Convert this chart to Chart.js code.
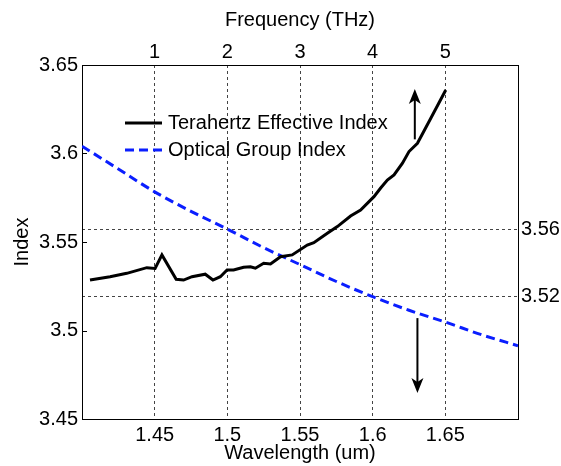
<!DOCTYPE html>
<html>
<head>
<meta charset="utf-8">
<script src="https://cdn.jsdelivr.net/npm/chart.js@4"></script>
<style>
  html, body { margin: 0; padding: 0; background: #fff; }
  canvas { display: block; }
</style>
</head>
<body>
<canvas id="index-chart" width="561" height="466"></canvas>
<script>
// terahertz effective index (left axis)
const thzLambda = [1.4055, 1.4193, 1.4308, 1.4446, 1.4503, 1.455, 1.4648, 1.4699, 1.4757, 1.4848,
  1.4901, 1.4952, 1.4998, 1.5043, 1.5112, 1.5159, 1.5193, 1.525, 1.5297, 1.5366, 1.5446, 1.555,
  1.5595, 1.5688, 1.5757, 1.5848, 1.5917, 1.6009, 1.6055, 1.6101, 1.6147, 1.6205, 1.625, 1.6308,
  1.64, 1.6503];
const thzIndex = [3.5285, 3.5304, 3.5323, 3.5355, 3.5351, 3.5427, 3.5289, 3.5285, 3.5304, 3.5318,
  3.5285, 3.5304, 3.5342, 3.5342, 3.5357, 3.536, 3.5352, 3.538, 3.5376, 3.5417, 3.5427, 3.5483,
  3.5496, 3.5549, 3.5587, 3.5647, 3.5681, 3.5756, 3.5805, 3.585, 3.5879, 3.5945, 3.6011, 3.6058,
  3.6199, 3.6359];

// optical group index (right axis)
const optLambda = [1.40, 1.425, 1.45, 1.475, 1.50, 1.525, 1.55, 1.575, 1.60, 1.625, 1.65, 1.675, 1.70];
const optIndex = [3.609, 3.5955, 3.582, 3.5705, 3.560, 3.549, 3.539, 3.529, 3.520, 3.512, 3.505, 3.4975, 3.491];

const wavelengthTicks = [1.45, 1.5, 1.55, 1.6, 1.65];
const freqTicks = [1, 2, 3, 4, 5];
const leftTicks = [3.45, 3.5, 3.55, 3.6, 3.65];
const rightTicks = [3.52, 3.56];

const seriesNames = ['Terahertz Effective Index', 'Optical Group Index'];

// arrows: [wavelength, from, to] on the left axis
const arrows = [
  [1.629, 3.608, 3.6364],
  [1.6308, 3.507, 3.4647],
];

const FONT = "Arial, 'Liberation Sans', sans-serif";
const gridGrey = '#444';
const blue = '#0a1eff';

Chart.defaults.font.family = FONT;
Chart.defaults.font.size = 20;
Chart.defaults.color = '#000';

const fmt = (v) => String(Number(v.toFixed(2)));
const setTicks = (list) => (scale) => {
  scale.ticks = list.map((v) => ({ value: v }));
};

const extras = {
  id: 'extras',
  afterDatasetsDraw(chart) {
    const { ctx, chartArea, scales } = chart;
    const y = scales.y;
    const x = scales.x;

    // small inward ticks on the left axis
    ctx.save();
    ctx.strokeStyle = '#000';
    ctx.lineWidth = 1;
    leftTicks.forEach((v) => {
      const py = Math.round(y.getPixelForValue(v)) + 0.5;
      ctx.beginPath();
      ctx.moveTo(chartArea.left, py);
      ctx.lineTo(chartArea.left + 5, py);
      ctx.stroke();
    });

    // arrows
    ctx.fillStyle = '#000';
    ctx.lineWidth = 2;
    arrows.forEach(([lam, from, to]) => {
      const px = x.getPixelForValue(lam);
      const p0 = y.getPixelForValue(from);
      const p1 = y.getPixelForValue(to);
      const dir = p1 < p0 ? -1 : 1;
      ctx.beginPath();
      ctx.moveTo(px, p0);
      ctx.lineTo(px, p1 - dir * 10);
      ctx.stroke();
      ctx.beginPath();
      ctx.moveTo(px, p1);
      ctx.lineTo(px - 6, p1 - dir * 15);
      ctx.lineTo(px, p1 - dir * 11);
      ctx.lineTo(px + 6, p1 - dir * 15);
      ctx.closePath();
      ctx.fill();
    });

    // legend inside the plot
    const lx = chartArea.left + 43;
    const rows = [chartArea.top + 58, chartArea.top + 85];
    ctx.font = '20px ' + FONT;
    ctx.textBaseline = 'middle';
    ctx.textAlign = 'left';
    chart.data.datasets.forEach((ds, i) => {
      ctx.strokeStyle = ds.borderColor;
      ctx.lineWidth = ds.borderWidth;
      ctx.setLineDash(ds.borderDash || []);
      ctx.beginPath();
      ctx.moveTo(lx, rows[i]);
      ctx.lineTo(lx + 37, rows[i]);
      ctx.stroke();
      ctx.setLineDash([]);
      ctx.fillStyle = '#000';
      ctx.fillText(ds.label, lx + 43, rows[i]);
    });
    ctx.restore();
  },
};

new Chart(document.getElementById('index-chart'), {
  type: 'line',
  data: {
    datasets: [
      {
        label: seriesNames[0],
        data: thzLambda.map((v, i) => ({ x: v, y: thzIndex[i] })),
        borderColor: '#000',
        borderWidth: 3,
        pointRadius: 0,
        tension: 0,
        xAxisID: 'x',
        yAxisID: 'y',
      },
      {
        label: seriesNames[1],
        data: optLambda.map((v, i) => ({ x: v, y: optIndex[i] })),
        borderColor: blue,
        borderWidth: 3,
        borderDash: [9, 5],
        pointRadius: 0,
        cubicInterpolationMode: 'monotone',
        xAxisID: 'x',
        yAxisID: 'y2',
      },
    ],
  },
  options: {
    responsive: false,
    animation: false,
    devicePixelRatio: 1,
    layout: { padding: 0 },
    plugins: {
      legend: { display: false },
      tooltip: { enabled: false },
    },
    scales: {
      x: {
        type: 'linear',
        position: 'bottom',
        min: 1.40,
        max: 1.70,
        afterBuildTicks: setTicks(wavelengthTicks),
        afterFit: (s) => { s.height = 47; },
        ticks: { padding: 4, maxRotation: 0, callback: (v) => fmt(v) },
        grid: { color: gridGrey, lineWidth: 1, drawTicks: false },
        border: { color: '#000', width: 1, dash: [3, 3] },
        title: { display: true, text: 'Wavelength (um)', padding: { top: 0, bottom: 1 } },
      },
      x2: {
        type: 'linear',
        position: 'top',
        min: 0,
        max: 6,
        afterBuildTicks: setTicks(freqTicks),
        afterFit: (s) => { s.height = 65; },
        ticks: { padding: 1, maxRotation: 0 },
        grid: { color: 'rgba(0,0,0,0)', drawTicks: false, drawOnChartArea: false },
        border: { color: '#000', width: 1 },
        title: { display: true, text: 'Frequency (THz)', padding: { top: 8, bottom: 0 } },
      },
      y: {
        type: 'linear',
        position: 'left',
        min: 3.45,
        max: 3.65,
        afterBuildTicks: setTicks(leftTicks),
        afterFit: (s) => { s.width = 82; },
        ticks: { padding: 4, callback: (v) => fmt(v) },
        grid: { color: 'rgba(0,0,0,0)', drawTicks: false, drawOnChartArea: false },
        border: { color: '#000', width: 1 },
        title: { display: true, text: 'Index', padding: { top: 10, bottom: 0 } },
      },
      y2: {
        type: 'linear',
        position: 'right',
        min: 3.4477,
        max: 3.657,
        afterBuildTicks: setTicks(rightTicks),
        afterFit: (s) => { s.width = 43; },
        ticks: { padding: 3, callback: (v) => fmt(v) },
        grid: { color: gridGrey, lineWidth: 1, drawTicks: false },
        border: { color: '#000', width: 1, dash: [3, 3] },
      },
    },
  },
  plugins: [extras],
});
</script>
</body>
</html>
